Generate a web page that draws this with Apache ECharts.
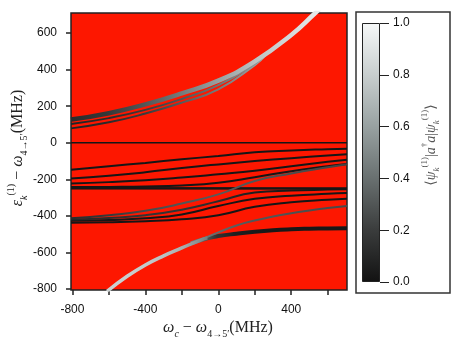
<!DOCTYPE html>
<html>
<head>
<meta charset="utf-8">
<script src="https://cdn.jsdelivr.net/npm/echarts@6/dist/echarts.min.js"></script>
<style>
  html, body { margin: 0; padding: 0; background: #fff; }
  #chart { width: 457px; height: 341px; }
</style>
</head>
<body>
<div id="chart"></div>
<script>
// tick positions
const xTicks = [-800, -600, -400, -200, 0, 200, 400, 600];
const xLabels = [-800, -400, 0, 400];
const yTicks = [-800, -600, -400, -200, 0, 200, 400, 600];
const barRange = [0, 1];

// levels: [detuning, energy] and photon fraction at each point
const zeroLine = [[-808, 0], [706, 0]];
const lineA = [[-808, -147], [-600, -128], [-400, -110], [-200, -90], [0, -72], [200, -52], [400, -42], [600, -35], [706, -32]];
const lineB = [[-808, -195], [-600, -180], [-400, -161], [-200, -138], [0, -118], [200, -100], [400, -84], [600, -70], [706, -63]];
const lineC = [[-808, -222], [-600, -215], [-400, -205], [-200, -190], [0, -172], [200, -153], [400, -128], [600, -104], [706, -92]];
const lineD = [[-808, -242], [-600, -241], [-400, -239], [-200, -233], [0, -218], [200, -188], [400, -155], [600, -128], [706, -116]];
const lineE = [[-808, -249], [706, -250]];
const lineL3 = [[-808, -437], [-600, -435], [-400, -429], [-200, -418], [0, -396], [200, -350], [400, -325], [600, -311], [706, -306]];
const lineL2 = [[-808, -426], [-600, -422], [-400, -413], [-200, -392], [0, -346], [200, -306], [400, -289], [600, -279], [706, -275]];
const lineL1 = [[-808, -419], [-600, -411], [-400, -396], [-200, -366], [0, -320], [200, -272], [400, -261], [600, -256], [706, -254]];
const fracL1 = [0.1, 0.12, 0.16, 0.16, 0.12, 0.06, 0.03, 0.02, 0.02];
const lineG = [[-808, -413], [-600, -396], [-400, -372], [-200, -332], [0, -282], [200, -209], [400, -168], [600, -134], [706, -117]];
const fracG = [0.12, 0.18, 0.25, 0.3, 0.32, 0.3, 0.27, 0.24, 0.22];
const bandLow = [[-150, -550], [-60, -522], [0, -510], [100, -497], [200, -486], [300, -478], [400, -473], [500, -470], [600, -468], [706, -467]];
const fracBand = [0.5, 0.3, 0.15, 0.06, 0.04, 0.03, 0.03, 0.03, 0.03, 0.03];
const branchUp = [[-100, -532], [0, -490], [100, -452], [200, -425], [300, -403], [400, -385], [500, -370], [600, -357], [706, -345]];
const fracBranch = [0.45, 0.38, 0.33, 0.3, 0.3, 0.28, 0.27, 0.26, 0.25];
const photonLow = [[-610, -812], [-500, -730], [-400, -668], [-300, -618], [-200, -575], [-100, -533], [-60, -520]];
const fracPhoton = [0.82, 0.8, 0.78, 0.74, 0.66, 0.5, 0.42];
const upper3 = [[-808, 79], [-600, 112], [-400, 160], [-200, 220], [0, 292], [200, 425], [260, 480]];
const fracU3 = [0.08, 0.12, 0.2, 0.32, 0.45, 0.6, 0.66];
const upper2 = [[-808, 103], [-600, 135], [-400, 180], [-200, 240], [0, 315], [200, 432], [260, 484]];
const fracU2 = [0.08, 0.12, 0.2, 0.3, 0.42, 0.55, 0.62];
const upper1 = [[-808, 127], [-600, 162], [-400, 210], [-200, 270], [0, 340], [200, 445], [400, 590], [532, 710], [560, 735]];
const fracU1 = [0.12, 0.18, 0.3, 0.45, 0.6, 0.75, 0.86, 0.93, 0.95];

// grays colour table
const grayTable = [[0, [18, 18, 18]], [0.2, [58, 60, 60]], [0.4, [105, 112, 112]], [0.6, [152, 161, 161]], [0.8, [200, 206, 206]], [1, [246, 248, 248]]];
function grayAt(v) {
    for (let i = 1; i < grayTable.length; i++) {
        if (v <= grayTable[i][0]) {
            const a = grayTable[i - 1], b = grayTable[i];
            const t = (v - a[0]) / (b[0] - a[0]);
            const c = a[1].map(function (x, k) { return Math.round(x + (b[1][k] - x) * t); });
            return 'rgb(' + c.join(',') + ')';
        }
    }
    return 'rgb(246,248,248)';
}

function level(points, fracs, width) {
    let color = grayAt(0.02);
    if (fracs) {
        const x0 = points[0][0], x1 = points[points.length - 1][0];
        const stops = points.map(function (p, i) {
            return { offset: (p[0] - x0) / (x1 - x0), color: grayAt(fracs[i]) };
        });
        color = new echarts.graphic.LinearGradient(0, 0, 1, 0, stops);
    }
    return {
        type: 'line',
        xAxisIndex: 0,
        yAxisIndex: 0,
        data: points,
        smooth: 0.5,
        showSymbol: false,
        symbol: 'none',
        silent: true,
        lineStyle: { color: color, width: width }
    };
}

const chart = echarts.init(document.getElementById('chart'), null, { renderer: 'canvas' });

const tickFont = { fontFamily: 'Liberation Sans, Arial, sans-serif', fontSize: 12, color: '#111' };
const serif = 'Liberation Serif, DejaVu Serif, serif';
function mathStyles(big, small) {
    return {
        i: { fontFamily: serif, fontStyle: 'italic', fontSize: big, lineHeight: big + 7, verticalAlign: 'middle' },
        n: { fontFamily: serif, fontSize: big, lineHeight: big + 7, verticalAlign: 'middle' },
        sb: { fontFamily: serif, fontStyle: 'italic', fontSize: small, lineHeight: small + 1, verticalAlign: 'bottom' },
        sbn: { fontFamily: serif, fontSize: small, lineHeight: small + 1, verticalAlign: 'bottom' },
        sp: { fontFamily: serif, fontSize: small, lineHeight: small + 1, verticalAlign: 'top' }
    };
}

const barStops = [0, 0.2, 0.4, 0.6, 0.8, 1].map(function (v) { return { offset: v, color: grayAt(v) }; });

const option = {
    animation: false,
    backgroundColor: '#fff',
    grid: [
        { left: 71, top: 13, width: 276, height: 277, show: true, backgroundColor: '#fd1700', borderColor: '#222', borderWidth: 1.5 },
        { left: 362, top: 23, width: 18, height: 259 }
    ],
    xAxis: [
        {
            type: 'value', gridIndex: 0, min: -808, max: 706, position: 'bottom',
            axisLine: { show: false, onZero: false },
            splitLine: { show: false },
            axisTick: { show: true, inside: false, length: 5, customValues: xTicks, lineStyle: { color: '#222', width: 1.5 } },
            axisLabel: Object.assign({ customValues: xLabels, margin: 14 }, tickFont)
        },
        { type: 'category', gridIndex: 1, data: ['c'], show: false }
    ],
    yAxis: [
        {
            type: 'value', gridIndex: 0, min: -805, max: 710, position: 'left',
            axisLine: { show: false, onZero: false },
            splitLine: { show: false },
            axisTick: { show: true, inside: false, length: 5, customValues: yTicks, lineStyle: { color: '#222', width: 1.5 } },
            axisLabel: Object.assign({ customValues: yTicks, margin: 14 }, tickFont)
        },
        {
            type: 'value', gridIndex: 1, min: barRange[0], max: barRange[1], interval: 0.2, position: 'right',
            axisLine: { show: false, onZero: false },
            splitLine: { show: false },
            axisTick: { show: true, inside: false, length: 9, lineStyle: { color: '#222', width: 1 } },
            axisLabel: Object.assign({ margin: 13, formatter: function (v) { return v.toFixed(1); } }, tickFont)
        }
    ],
    graphic: [
        { type: 'rect', shape: { x: 356, y: 12, width: 94, height: 281 }, style: { fill: 'none', stroke: '#333', lineWidth: 1.5 } },
        {
            type: 'text', x: 218, y: 328,
            style: {
                text: '{i|ω}{sb|c}{n| − }{i|ω}{sbn|4→5′}{n|(MHz)}',
                rich: mathStyles(16, 10), align: 'center', verticalAlign: 'middle', fill: '#222'
            }
        },
        {
            type: 'text', x: 18, y: 148, rotation: Math.PI / 2,
            style: {
                text: '{i|ε}{sb|k}{sp|(1)}{n| − }{i|ω}{sbn|4→5′}{n|(MHz)}',
                rich: mathStyles(16, 10), align: 'center', verticalAlign: 'middle', fill: '#222'
            }
        },
        {
            type: 'text', x: 431, y: 145, rotation: Math.PI / 2,
            style: {
                text: '{n|⟨}{i|ψ}{sb|k}{sp|(1)}{n||}{i|a}{sp|†}{i|a}{n||}{i|ψ}{sb|k}{sp|(1)}{n|⟩}',
                rich: mathStyles(14, 9), align: 'center', verticalAlign: 'middle', fill: '#555'
            }
        }
    ],
    series: [
        level(zeroLine, null, 1.5),
        level(lineA, null, 2),
        level(lineB, null, 2),
        level(lineC, null, 2),
        level(lineD, null, 2),
        level(lineE, null, 2.5),
        level(lineL3, null, 2),
        level(lineL2, null, 2),
        level(lineL1, fracL1, 2),
        level(lineG, fracG, 2),
        level(bandLow, fracBand, 4),
        level(branchUp, fracBranch, 2),
        level(photonLow, fracPhoton, 3.5),
        level(upper3, fracU3, 2),
        level(upper2, fracU2, 2),
        level(upper1, fracU1, 4.5),
        {
            type: 'bar', xAxisIndex: 1, yAxisIndex: 1, data: [barRange[1]], barWidth: '100%', silent: true,
            itemStyle: { color: new echarts.graphic.LinearGradient(0, 1, 0, 0, barStops), borderColor: '#222', borderWidth: 1 }
        }
    ]
};

chart.setOption(option);
</script>
</body>
</html>
